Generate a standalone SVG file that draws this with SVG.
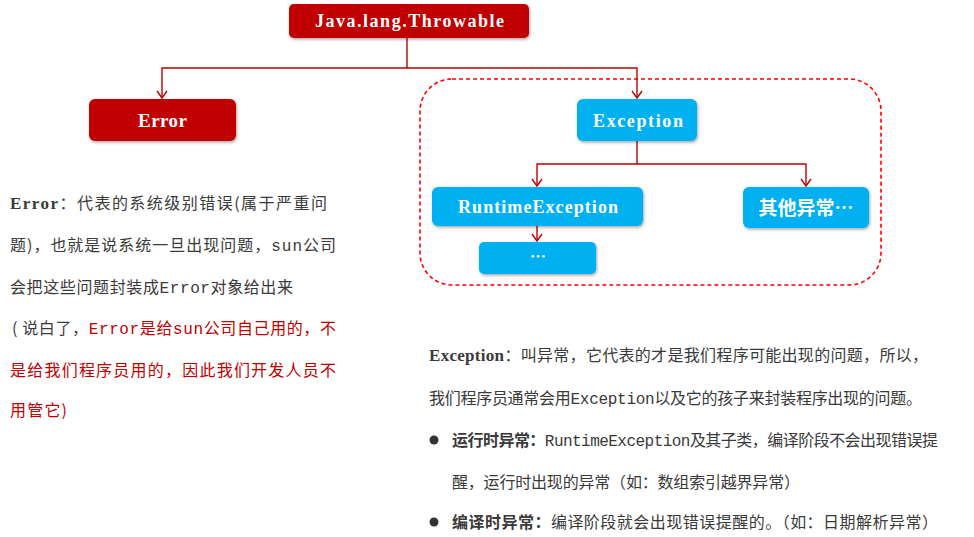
<svg xmlns="http://www.w3.org/2000/svg" width="974" height="537" viewBox="0 0 974 537">
<defs>
<style>
.red{fill:#C00000}
.blue{fill:#00B0F0}
.box{filter:url(#sh)}
.lbl{fill:#fff;font-weight:bold;text-anchor:middle}
.ser{font-family:"Liberation Serif",serif}
.cjk{font-family:"Noto Sans CJK SC",sans-serif}
.conn{fill:none;stroke:#C00000;stroke-width:1.4}
.t{font-family:"Noto Sans CJK SC",sans-serif;font-size:16px;fill:#3a3a3a}
.tr{fill:#C00000}
.m{font-family:"Liberation Mono","Noto Sans CJK SC",monospace}
.hb{font-family:"Liberation Serif",serif;font-weight:bold}
.b{font-weight:bold}
</style>
<filter id="sh" x="-10%" y="-20%" width="130%" height="160%">
<feDropShadow dx="1" dy="1.5" stdDeviation="1.5" flood-color="#000" flood-opacity="0.35"/>
</filter>
<marker id="arr" markerWidth="14" markerHeight="14" refX="0" refY="0" viewBox="-8 -7 10 14" orient="auto" markerUnits="userSpaceOnUse">
<path d="M-7,-5 L0,0 L-7,5" fill="none" stroke="#C00000" stroke-width="1.4"/>
</marker>
</defs>
<rect width="974" height="537" fill="#fff"/>

<g id="container">
<rect x="420" y="79" width="461" height="206" rx="32" fill="none" stroke="#FF0000" stroke-width="1.6" stroke-dasharray="4,3"/>
</g>

<g id="connectors">
<path class="conn" d="M407,38 V68 H162 V98" marker-end="url(#arr)"/>
<path class="conn" d="M407,68 H637 V98" marker-end="url(#arr)"/>
<path class="conn" d="M637,141 V164 H537 V186" marker-end="url(#arr)"/>
<path class="conn" d="M637,164 H806 V186" marker-end="url(#arr)"/>
<path class="conn" d="M537,226 V241" marker-end="url(#arr)"/>
</g>

<g id="throwable">
<rect class="red box" x="289" y="4" width="240" height="34" rx="5"/>
<text class="lbl ser" x="409.5" y="27" font-size="18" textLength="189" lengthAdjust="spacing">Java.lang.Throwable</text>
</g>
<g id="error">
<rect class="red box" x="89" y="99" width="147" height="42" rx="6"/>
<text class="lbl ser" x="162.5" y="126.5" font-size="19" textLength="49" lengthAdjust="spacing">Error</text>
</g>
<g id="exception">
<rect class="blue box" x="577" y="99" width="120" height="42" rx="6"/>
<text class="lbl ser" x="638" y="126.5" font-size="18" textLength="90" lengthAdjust="spacing">Exception</text>
</g>
<g id="runtime">
<rect class="blue box" x="432" y="187" width="211" height="39" rx="6"/>
<text class="lbl ser" x="538" y="213" font-size="18" textLength="160" lengthAdjust="spacing">RuntimeException</text>
</g>
<g id="other">
<rect class="blue box" x="743" y="187" width="126" height="41" rx="6"/>
<text class="lbl cjk" x="806" y="214.5" font-size="19">其他异常…</text>
</g>
<g id="more">
<rect class="blue box" x="479" y="242" width="117" height="32" rx="5"/>
<text class="lbl cjk" x="538" y="262" font-size="16">…</text>
</g>

<g id="error-text" class="t">
<text x="10" y="209" textLength="317" lengthAdjust="spacing"><tspan class="hb" font-size="17">Error</tspan>：代表的系统级别错误(属于严重问</text>
<text x="10" y="251" textLength="326" lengthAdjust="spacing">题)，也就是说系统一旦出现问题，<tspan class="m">sun</tspan>公司</text>
<text x="10" y="293" textLength="283" lengthAdjust="spacing">会把这些问题封装成<tspan class="m">Error</tspan>对象给出来</text>
<text x="12" y="334" textLength="324" lengthAdjust="spacing">( 说白了，<tspan class="tr m">Error</tspan><tspan class="tr">是给</tspan><tspan class="tr m">sun</tspan><tspan class="tr">公司自己用的，不</tspan></text>
<text x="10" y="376" textLength="326" lengthAdjust="spacing" class="tr">是给我们程序员用的，因此我们开发人员不</text>
<text x="10" y="416" textLength="57" lengthAdjust="spacing" class="tr">用管它)</text>
</g>

<g id="exception-text" class="t">
<text x="429" y="361" textLength="499" lengthAdjust="spacing"><tspan class="hb" font-size="17">Exception</tspan>：叫异常，它代表的才是我们程序可能出现的问题，所以，</text>
<text x="429" y="404" textLength="493" lengthAdjust="spacing">我们程序员通常会用<tspan class="m">Exception</tspan>以及它的孩子来封装程序出现的问题。</text>
<circle cx="434" cy="440" r="4.5" fill="#333"/>
<text x="452" y="446" textLength="486" lengthAdjust="spacing"><tspan class="b">运行时异常：</tspan><tspan class="m">RuntimeException</tspan>及其子类，编译阶段不会出现错误提</text>
<text x="452" y="488" textLength="348" lengthAdjust="spacing">醒，运行时出现的异常（如：数组索引越界异常）</text>
<circle cx="434" cy="522" r="4.5" fill="#333"/>
<text x="452" y="528" textLength="486" lengthAdjust="spacing"><tspan class="b">编译时异常：</tspan>编译阶段就会出现错误提醒的。（如：日期解析异常）</text>
</g>
</svg>
